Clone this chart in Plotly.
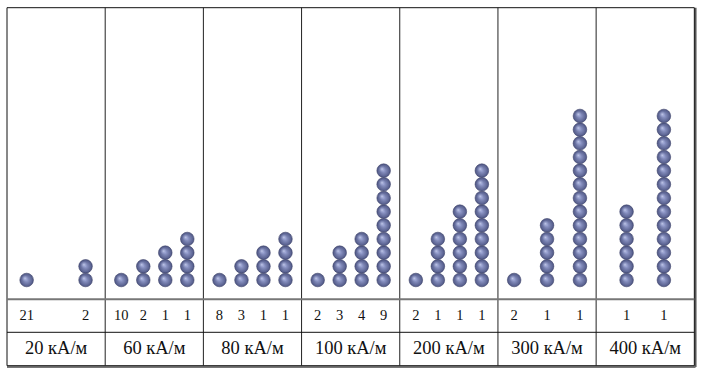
import plotly.graph_objects as go

# ---- data ----
fields = ["20 кА/м", "60 кА/м", "80 кА/м", "100 кА/м", "200 кА/м", "300 кА/м", "400 кА/м"]
stack_heights = [[1, 2], [1, 2, 3, 4], [1, 2, 3, 4], [1, 3, 4, 9], [1, 4, 6, 9], [1, 5, 13], [6, 13]]
counts = [[21, 2], [10, 2, 1, 1], [8, 3, 1, 1], [2, 3, 4, 9], [2, 1, 1, 1], [2, 1, 1], [1, 1]]

# ---- layout / style ----
col_gap = [0.60, 0.224, 0.224, 0.224, 0.224, 0.335, 0.38]
W, H = 703, 373
x_left_px, panel_px = 7.0, 98.19
y0_px, step_px = 280.0, 13.67
xr = [-x_left_px / panel_px, (W - x_left_px) / panel_px]
yr = [(y0_px - H) / step_px, y0_px / step_px]
serif = "Liberation Serif, Times New Roman, DejaVu Serif, serif"

def ypx(p):
    return (y0_px - p) / step_px

y_top, y_sep1, y_sep2, y_bot = ypx(7.7), ypx(299.3), ypx(332.3), ypx(365.7)
y_count, y_label = ypx(316.5), ypx(349.5)
n = len(fields)

bx, by, tx, ty, tt = [], [], [], [], []
for i in range(n):
    k = len(stack_heights[i])
    for j in range(k):
        xc = i + 0.5 + (j - (k - 1) / 2) * col_gap[i]
        for b in range(stack_heights[i][j]):
            bx.append(xc)
            by.append(b)
        tx.append(xc)
        ty.append(y_count)
        tt.append(str(counts[i][j]))

# highlight offset (style): ~1.6 px up-left of each ball centre
hx = [v - 1.6 / panel_px for v in bx]
hy = [v + 1.6 / step_px for v in by]

fig = go.Figure()
fig.add_trace(go.Scatter(
    x=bx, y=by, mode="markers", hoverinfo="skip",
    marker=dict(size=13.6, color="#4f5785",
                gradient=dict(type="radial", color="#97a0d0"),
                line=dict(color="#3c4268", width=0.6)),
))
fig.add_trace(go.Scatter(
    x=hx, y=hy, mode="markers", hoverinfo="skip",
    marker=dict(size=7, color="rgba(150,160,210,0)",
                gradient=dict(type="radial", color="rgba(205,212,242,0.85)"),
                line=dict(width=0)),
))
fig.add_trace(go.Scatter(
    x=tx, y=ty, mode="text", text=tt, hoverinfo="skip",
    textfont=dict(family=serif, size=14.5, color="#111"),
))
fig.add_trace(go.Scatter(
    x=[i + 0.5 for i in range(n)], y=[y_label] * n, mode="text", text=fields,
    hoverinfo="skip",
    textfont=dict(family=serif, size=18.5, color="#111"),
))

shapes = []
# shadow on right and bottom
shapes.append(dict(type="line", x0=n + 1.2 / panel_px, x1=n + 1.2 / panel_px,
                   y0=y_top, y1=y_bot - 1.2 / step_px,
                   line=dict(color="#555", width=2)))
shapes.append(dict(type="line", x0=0, x1=n + 1.2 / panel_px,
                   y0=y_bot - 1.2 / step_px, y1=y_bot - 1.2 / step_px,
                   line=dict(color="#777", width=2)))
# outer box
shapes.append(dict(type="rect", x0=0, x1=n, y0=y_bot, y1=y_top,
                   line=dict(color="#111", width=1)))
# vertical separators
for i in range(1, n):
    shapes.append(dict(type="line", x0=i, x1=i, y0=y_bot, y1=y_top,
                       line=dict(color="#222", width=1)))
# horizontal separators
shapes.append(dict(type="line", x0=0, x1=n, y0=y_sep1, y1=y_sep1,
                   line=dict(color="#777", width=2)))
shapes.append(dict(type="line", x0=0, x1=n, y0=y_sep2, y1=y_sep2,
                   line=dict(color="#111", width=1)))

fig.update_layout(
    width=W, height=H, autosize=False,
    margin=dict(l=0, r=0, t=0, b=0),
    paper_bgcolor="white", plot_bgcolor="white",
    showlegend=False, shapes=shapes,
    xaxis=dict(range=xr, visible=False, fixedrange=True),
    yaxis=dict(range=yr, visible=False, fixedrange=True),
)
fig.write_html("out.html", config={"displayModeBar": False},
               post_script="document.body.style.margin='0';document.body.style.overflow='hidden';")
